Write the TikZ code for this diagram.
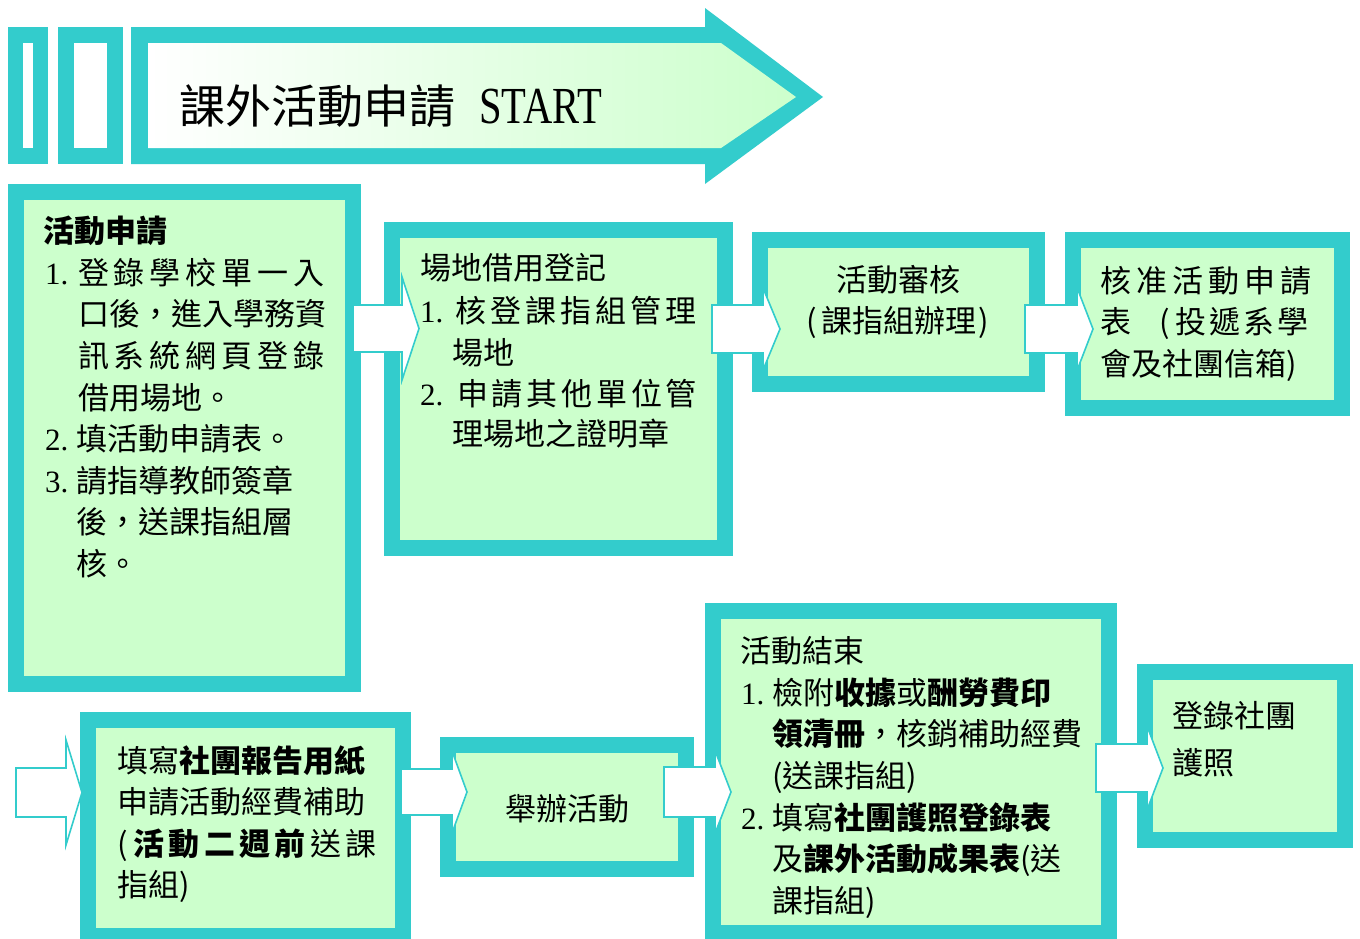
\documentclass[tikz,border=0pt]{standalone}
\usepackage{fontspec}
\usepackage{graphicx}
\setmainfont{Noto Sans CJK TC}
\newfontfamily\lat{Liberation Serif}
\usetikzlibrary{calc}
\definecolor{tq}{HTML}{33CCCC}
\definecolor{lg}{HTML}{CCFFCC}
\tikzset{
  box/.style={draw=tq, fill=lg, line width=16pt, inner sep=0pt, outer sep=0pt},
  txt/.style={inner sep=0pt, outer sep=0pt, anchor=base west, text=black, font=\fontsize{31}{37}\selectfont},
  ctxt/.style={txt, anchor=base},
  num/.style={txt, font=\fontsize{31}{37}\selectfont\lat},
  blockarrow/.style={draw=tq, fill=white, line width=1.6pt, line join=miter},
}
% #1 start coordinate, #2 tip coordinate, #3 shaft half height, #4 head length, #5 head half height
\newcommand\barrow[5]{%
  \draw[blockarrow] ($(#1)+(0,-#3)$) -- ($(#2)+(-#4,-#3)$) -- ($(#2)+(-#4,-#5)$) -- (#2)
    -- ($(#2)+(-#4,#5)$) -- ($(#2)+(-#4,#3)$) -- ($(#1)+(0,#3)$) -- cycle;}
\begin{document}
\begin{tikzpicture}[x=1pt,y=-1pt]
\useasboundingbox (0,0) rectangle (1360,938);
\clip (0,0) rectangle (1360,938);
\fill[white] (0,0) rectangle (1360,938);

% ---- banner ----
\fill[tq] (8,27) rectangle (48,164);
\fill[white] (23,43) rectangle (33,148);
\fill[tq] (58,27) rectangle (123,164);
\fill[white] (74,43) rectangle (107,148);
\fill[tq] (131,27) -- (705,27) -- (705,8) -- (823,97) -- (705,184) -- (705,164) -- (131,164) -- cycle;
\shade[left color=white, right color=lg] (148,43) -- (721,43) -- (796,97) -- (721,148) -- (148,148) -- cycle;
\node[inner sep=0pt, anchor=base west, font=\fontsize{46}{50}\selectfont] (title) at (179,123)
  {課外活動申請\hspace{24pt}\scalebox{0.78}[1]{\lat\fontsize{52}{56}\selectfont START}};

% ---- boxes ----
\node[box, minimum width=337pt, minimum height=492pt] (b1) at (184.5,438) {};
\node[box, minimum width=333pt, minimum height=318pt] (b2) at (558.5,389) {};
\node[box, minimum width=277pt, minimum height=144pt] (b3) at (898.5,312) {};
\node[box, minimum width=269pt, minimum height=168pt] (b4) at (1207.5,324) {};
\node[box, minimum width=315pt, minimum height=216pt] (b5) at (245.5,828) {};
\node[box, minimum width=238pt, minimum height=124pt] (b6) at (567,807) {};
\node[box, minimum width=396pt, minimum height=322pt] (b7) at (911,772) {};
\node[box, minimum width=200pt, minimum height=168pt] (b8) at (1245,756) {};

% ---- block arrows ----
\coordinate (a0s) at (16,792.5);   \coordinate (a0t) at (82,792.5);
\coordinate (a12s) at (353,328.5); \coordinate (a12t) at (419,328.5);
\coordinate (a23s) at (712,329);   \coordinate (a23t) at (780,329);
\coordinate (a34s) at (1025,329);  \coordinate (a34t) at (1093,329);
\coordinate (a56s) at (401,792);   \coordinate (a56t) at (467,792);
\coordinate (a67s) at (664,792);   \coordinate (a67t) at (731,792);
\coordinate (a78s) at (1096,768);  \coordinate (a78t) at (1163,768);
\barrow{a0s}{a0t}{24.5}{16}{52.5}
\barrow{a12s}{a12t}{23.5}{17}{51.5}
\barrow{a23s}{a23t}{24}{17}{41}
\barrow{a34s}{a34t}{24}{16}{41.5}
\barrow{a56s}{a56t}{23}{15}{41}
\barrow{a67s}{a67t}{25}{16}{41.5}
\barrow{a78s}{a78t}{24}{16}{42}

% ---- box 1 text ----
\node[txt] (t1a) at (43,242) {\textbf{活動申請}};
\node[num] (n11) at (45,284) {1.};
\node[txt] (t1b) at (78,284) {\hbox to 247pt{登\hfill 錄\hfill 學\hfill 校\hfill 單\hfill 一\hfill 入}};
\node[txt] (t1c) at (78,325) {口後，進入學務資};
\node[txt] (t1d) at (78,367) {\hbox to 247pt{訊\hfill 系\hfill 統\hfill 網\hfill 頁\hfill 登\hfill 錄}};
\node[txt] (t1e) at (78,409) {借用場地。};
\node[num] (n12) at (45,450) {2.};
\node[txt] (t1f) at (76,450) {填活動申請表。};
\node[num] (n13) at (45,492) {3.};
\node[txt] (t1g) at (76,492) {請指導教師簽章};
\node[txt] (t1h) at (76,533) {後，送課指組層};
\node[txt] (t1i) at (76,575) {核。};

% ---- box 2 text ----
\node[txt] (t2a) at (420,279) {場地借用登記};
\node[num] (n21) at (420,322) {1.};
\node[txt] (t2b) at (455,322) {\hbox to 242pt{核\hfill 登\hfill 課\hfill 指\hfill 組\hfill 管\hfill 理}};
\node[txt] (t2c) at (452,364) {場地};
\node[num] (n22) at (420,405) {2.};
\node[txt] (t2d) at (457,405) {\hbox to 240pt{申\hfill 請\hfill 其\hfill 他\hfill 單\hfill 位\hfill 管}};
\node[txt] (t2e) at (452,445) {理場地之證明章};

% ---- box 3 text ----
\node[ctxt] (t3a) at (898,291) {活動審核};
\node[ctxt] (t3b) at (898,332) {(\hspace{4pt}課指組辦理\hspace{3pt})};

% ---- box 4 text ----
\node[txt] (t4a) at (1100,292) {\hbox to 212pt{核\hfill 准\hfill 活\hfill 動\hfill 申\hfill 請}};
\node[txt] (t4b) at (1100,333) {表\hspace{28pt}(\hspace{6pt}投\hspace{3pt}遞\hspace{3pt}系\hspace{3pt}學};
\node[txt] (t4c) at (1100,375) {會及社團信箱)};

% ---- box 5 text ----
\node[txt] (t5a) at (117,772) {填寫\textbf{社團報告用紙}};
\node[txt] (t5b) at (117,813) {申請活動經費補助};
\node[txt] (t5c) at (117,855) {(\hspace{6pt}\hbox to 243pt{\bfseries 活\hfill 動\hfill 二\hfill 週\hfill 前\hfill\mdseries 送\hfill 課}};
\node[txt] (t5d) at (117,896) {指組)};

% ---- box 6 text ----
\node[ctxt] (t6a) at (567,820) {舉辦活動};

% ---- box 7 text ----
\node[txt] (t7a) at (740,662) {活動結束};
\node[num] (n71) at (741,704) {1.};
\node[txt] (t7b) at (772,704) {檢附\textbf{收據}或\textbf{酬勞費印}};
\node[txt] (t7c) at (772,745) {\textbf{領清冊}，核銷補助經費};
\node[txt] (t7d) at (772,787) {(送課指組)};
\node[num] (n72) at (741,829) {2.};
\node[txt] (t7e) at (772,829) {填寫\textbf{社團護照登錄表}};
\node[txt] (t7f) at (772,870) {及\textbf{課外活動成果表}(送};
\node[txt] (t7g) at (772,912) {課指組)};

% ---- box 8 text ----
\node[txt] (t8a) at (1172,727) {登錄社團};
\node[txt] (t8b) at (1172,774) {護照};
\end{tikzpicture}
\end{document}
